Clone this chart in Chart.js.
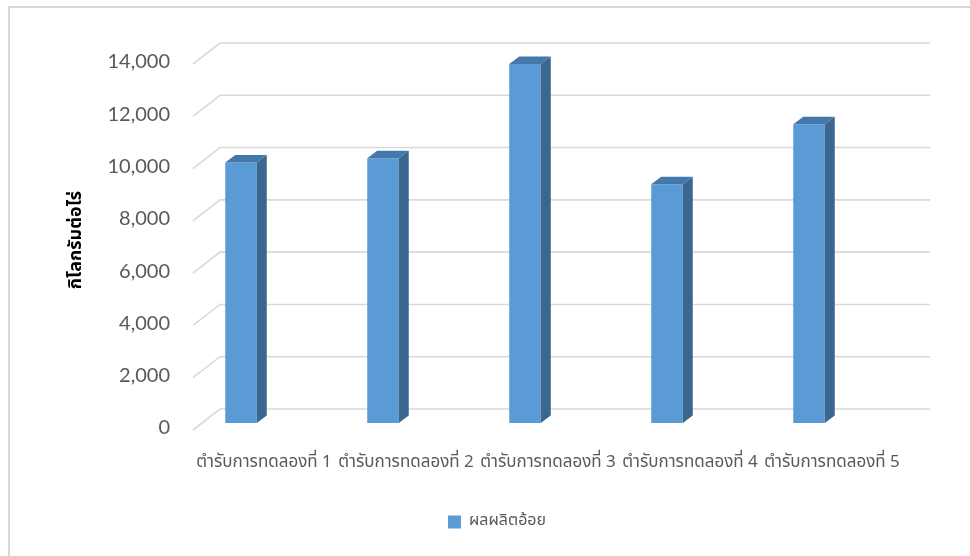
<!DOCTYPE html>
<html>
<head>
<meta charset="utf-8">
<script src="https://cdn.jsdelivr.net/npm/chart.js@4/dist/chart.umd.min.js"></script>
<style>
  html, body { margin: 0; padding: 0; background: #ffffff; overflow: hidden; }
  #wrap { position: relative; width: 970px; height: 556px; }
  #frame { position: absolute; left: 8px; top: 6px; width: 1000px; height: 600px;
           border-top: 2px solid #d9d9d9; border-left: 2px solid #d9d9d9; box-sizing: border-box; }
  canvas { position: absolute; left: 0; top: 0; }
</style>
</head>
<body>
<div id="wrap">
  <div id="frame"></div>
  <canvas id="c" width="970" height="556"></canvas>
</div>
<script>
const categories = ['ตำรับการทดลองที่ 1', 'ตำรับการทดลองที่ 2', 'ตำรับการทดลองที่ 3', 'ตำรับการทดลองที่ 4', 'ตำรับการทดลองที่ 5'];
const seriesName = 'ผลผลิตอ้อย';
const yieldValues = [9960, 10130, 13730, 9130, 11430];
const yTickValues = [0, 2000, 4000, 6000, 8000, 10000, 12000, 14000];
const yTitle = 'กิโลกรัมต่อไร่';

const FONT_NUM = "Lato, 'Liberation Sans', sans-serif";
const FONT_THAI = "Tahoma, 'Noto Sans Thai', 'Noto Sans', 'DejaVu Sans', sans-serif";

// 3D projection offsets (back wall relative to bar plane / front plane)
const DEPTH_X = 10, DEPTH_Y = 7.5;

const wallPlugin = {
  id: 'wall3d',
  afterLayout(chart) {
    if (chart.legend) { chart.legend.left += 57; chart.legend.right += 57; }
  },
  beforeDatasetsDraw(chart) {
    const {ctx, chartArea} = chart;
    const ys = chart.scales.y;
    ctx.save();
    ctx.strokeStyle = '#d9d9d9';
    ctx.lineWidth = 1.6;
    yTickValues.forEach(v => {
      const p = ys.getPixelForValue(v);
      const yb = p - 14, yf = p + 7;
      const xf = chartArea.left + 23, xb = chartArea.left + 50;
      ctx.beginPath();
      ctx.moveTo(xf, yf);
      ctx.lineTo(xb, yb);
      ctx.lineTo(chartArea.right + 50, yb);
      ctx.stroke();
    });
    ctx.restore();
  },
  afterDatasetsDraw(chart) {
    const {ctx} = chart;
    const meta = chart.getDatasetMeta(0);
    ctx.save();
    meta.data.forEach(el => {
      const {x, y, base, width} = el.getProps(['x', 'y', 'base', 'width'], true);
      const l = x - width / 2, r = x + width / 2;
      // side face
      ctx.fillStyle = '#3b6690';
      ctx.beginPath();
      ctx.moveTo(r, y);
      ctx.lineTo(r + DEPTH_X, y - DEPTH_Y);
      ctx.lineTo(r + DEPTH_X, base - DEPTH_Y);
      ctx.lineTo(r, base);
      ctx.closePath();
      ctx.fill();
      // top face
      ctx.fillStyle = '#4477aa';
      ctx.beginPath();
      ctx.moveTo(l, y);
      ctx.lineTo(l + DEPTH_X, y - DEPTH_Y);
      ctx.lineTo(r + DEPTH_X, y - DEPTH_Y);
      ctx.lineTo(r, y);
      ctx.closePath();
      ctx.fill();
    });
    ctx.restore();
  }
};

new Chart(document.getElementById('c'), {
  type: 'bar',
  data: {
    labels: categories,
    datasets: [{
      label: seriesName,
      data: yieldValues,
      backgroundColor: '#5b9bd5',
      borderWidth: 0,
      barPercentage: 0.222,
      categoryPercentage: 1.0
    }]
  },
  options: {
    responsive: false,
    animation: false,
    devicePixelRatio: 1,
    layout: { padding: { top: 57, right: 90, bottom: 16, left: 0 } },
    plugins: {
      tooltip: { enabled: false },
      legend: {
        position: 'bottom',
        labels: {
          boxWidth: 13, boxHeight: 13, padding: 10,
          color: '#595959',
          font: { family: FONT_THAI, size: 16 }
        }
      }
    },
    scales: {
      x: {
        grid: { display: false, drawTicks: false },
        border: { display: false },
        ticks: {
          color: '#595959',
          font: { family: FONT_THAI, size: 17 },
          padding: 30,
          labelOffset: 23,
          maxRotation: 0, autoSkip: false
        },
        afterFit(s) { s.height = 81; }
      },
      y: {
        min: 0, max: 14000,
        grid: { display: false, drawTicks: false },
        border: { display: false },
        afterBuildTicks(s) { s.ticks = yTickValues.map(v => ({ value: v })); },
        ticks: {
          color: '#595959',
          font: { family: FONT_NUM, size: 20 },
          padding: 0,
          labelOffset: 5,
          callback: v => Number(v).toLocaleString('en-US')
        },
        title: {
          display: true,
          text: yTitle,
          color: '#000000',
          font: { family: FONT_THAI, size: 18, weight: 'bold' },
          padding: { top: 67, bottom: 0 }
        },
        afterFit(s) { s.width = 170; }
      }
    }
  },
  plugins: [wallPlugin]
});
</script>
</body>
</html>
